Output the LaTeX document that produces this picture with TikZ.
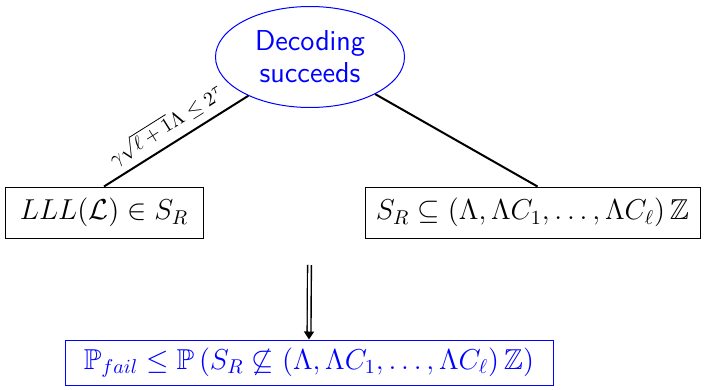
\documentclass[tikz,border=0pt]{standalone}
\usepackage{amsmath,amssymb}
\usetikzlibrary{shapes.geometric,arrows.meta}
\begin{document}
\begin{tikzpicture}[x=0.5pt,y=-0.5pt,
  plainbox/.style={draw=black,line width=0.5pt,inner sep=0pt,minimum height=25.5pt,font=\Large},
  bluebox/.style={draw=blue,line width=0.5pt,inner sep=0pt,minimum height=22.5pt,font=\Large,text=blue},
  topell/.style={ellipse,draw=blue,line width=0.5pt,inner sep=0pt,minimum width=94.5pt,minimum height=50.5pt,text=blue,font=\Large\sffamily,align=center},
  branch/.style={line width=1pt,black}]
\useasboundingbox (0,0) rectangle (706,390);
\node[topell] (top) at (310,57) {Decoding\\[-2pt]succeeds};
\node[plainbox,minimum width=99pt] (left) at (104,212.5) {$LLL(\mathcal{L})\in S_R$};
\node[plainbox,minimum width=167.5pt] (right) at (532.5,212.5) {$S_R\subseteq(\Lambda,\Lambda C_1,\ldots,\Lambda C_\ell)\,\mathbb{Z}$};
\node[bluebox,minimum width=244pt] (bottom) at (309,362.5) {$\mathbb{P}_{fail}\leq\mathbb{P}\,(S_R\not\subseteq(\Lambda,\Lambda C_1,\ldots,\Lambda C_\ell)\,\mathbb{Z})$};
\coordinate (arrstart) at (309.5,265);
\draw[branch] (top) -- node[midway,above,sloped,font=\normalsize,text=black] {$\gamma\sqrt{\ell+1}\Lambda\leq 2^{\tau}$} (left.north);
\draw[branch] (top) -- ([xshift=2.5pt]right.north);
\draw[double,double distance=1.2pt,line width=0.7pt,-{Triangle[length=4pt,width=5pt]}] (arrstart) -- (bottom.north);
\end{tikzpicture}
\end{document}
